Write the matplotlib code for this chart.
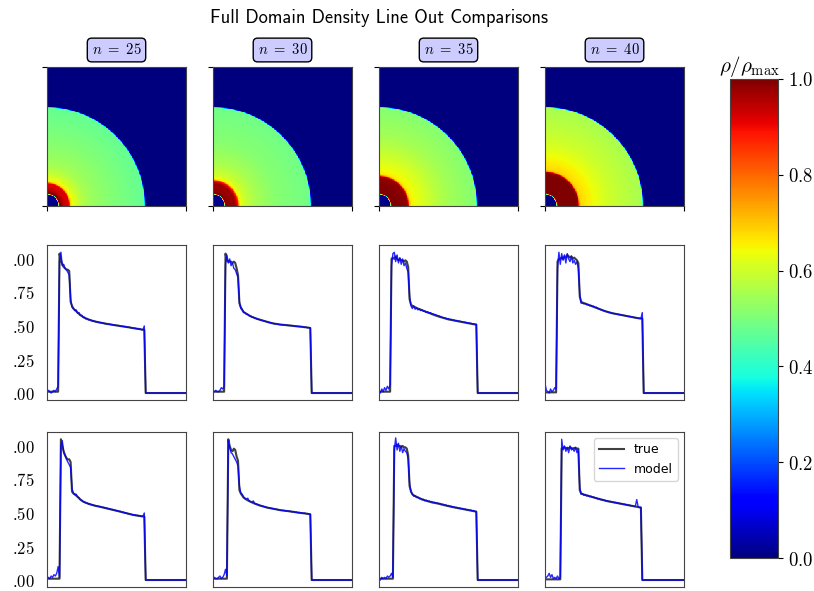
import numpy as np
import matplotlib
matplotlib.use('Agg')
import matplotlib.pyplot as plt
from matplotlib.ticker import FuncFormatter
from matplotlib.transforms import Bbox, TransformedBbox, IdentityTransform

plt.rcParams['mathtext.fontset'] = 'cm'

# ---------------- data ----------------
steps = [25, 30, 35, 40]
yticks = [0.0, 0.25, 0.5, 0.75, 1.0]
cbar_ticks = [0.0, 0.2, 0.4, 0.6, 0.8, 1.0]
N_POINTS = 101  # line-out samples at x = 0.00, 0.01, ..., 1.00 (tail beyond the shock is 0)

# row 2 (first line-out set)
r2_true_25 = [0.01, 0.01, 0.01, 0.01, 0.01, 0.01, 0.01, 0.01, 0.01,
              1.04, 0.99, 0.96, 0.94, 0.93, 0.92, 0.92, 0.91, 0.68, 0.65, 0.63, 0.62, 0.61, 0.60, 0.59, 0.58, 0.575,
              0.566, 0.561, 0.556, 0.552, 0.548, 0.545, 0.541, 0.538, 0.535, 0.533, 0.530, 0.528, 0.526, 0.524,
              0.522, 0.520, 0.518, 0.516, 0.514, 0.513, 0.511, 0.509, 0.507, 0.506, 0.504, 0.503, 0.501, 0.499,
              0.498, 0.496, 0.495, 0.493, 0.491, 0.490, 0.488, 0.486, 0.484, 0.483, 0.481, 0.479, 0.478, 0.476,
              0.474, 0.472, 0.470]
r2_model_25 = [0.01, 0.02, 0.01, 0.00, 0.01, 0.02, 0.01, 0.03, 0.05,
               0.98, 1.05, 0.95, 0.96, 0.93, 0.92, 0.90, 0.88, 0.70, 0.64, 0.63, 0.615, 0.62, 0.595, 0.60, 0.58, 0.58,
               0.565, 0.566, 0.553, 0.556, 0.545, 0.547, 0.540, 0.536, 0.537, 0.531, 0.530, 0.529, 0.524, 0.525,
               0.521, 0.520, 0.516, 0.517, 0.513, 0.514, 0.510, 0.510, 0.506, 0.507, 0.503, 0.504, 0.500, 0.499,
               0.497, 0.497, 0.494, 0.494, 0.490, 0.491, 0.487, 0.487, 0.483, 0.484, 0.480, 0.480, 0.477, 0.477,
               0.473, 0.472, 0.50]
r2_true_30 = [0.01, 0.01, 0.01, 0.01, 0.01, 0.01, 0.01, 0.01, 0.01,
              1.04, 0.99, 0.98, 0.98, 0.98, 0.97, 0.98, 0.97, 0.93, 0.88, 0.67, 0.64, 0.62,
              0.605, 0.598, 0.591, 0.585, 0.579, 0.573, 0.568, 0.564, 0.560, 0.556, 0.552, 0.549, 0.546, 0.543,
              0.540, 0.537, 0.534, 0.531, 0.528, 0.525, 0.522, 0.520, 0.518, 0.516, 0.515, 0.513, 0.511, 0.510,
              0.509, 0.508, 0.507, 0.506, 0.505, 0.504, 0.503, 0.502, 0.500, 0.499, 0.498, 0.497, 0.496, 0.495,
              0.494, 0.492, 0.491, 0.490, 0.488, 0.487, 0.485]
r2_model_30 = [0.01, 0.01, 0.02, 0.01, 0.01, 0.02, 0.04, 0.03, 0.05,
               0.96, 1.03, 0.97, 1.00, 0.95, 0.97, 0.93, 0.92, 0.89, 0.86, 0.68, 0.63, 0.625,
               0.60, 0.600, 0.588, 0.587, 0.576, 0.575, 0.566, 0.565, 0.558, 0.557, 0.550, 0.550, 0.544, 0.544,
               0.538, 0.538, 0.532, 0.532, 0.526, 0.526, 0.521, 0.520, 0.516, 0.517, 0.513, 0.514, 0.510, 0.511,
               0.507, 0.509, 0.505, 0.507, 0.503, 0.505, 0.501, 0.503, 0.499, 0.500, 0.497, 0.498, 0.495, 0.496,
               0.493, 0.494, 0.490, 0.491, 0.487, 0.488, 0.485]
r2_true_35 = [0.01, 0.01, 0.01, 0.01, 0.01, 0.01, 0.01, 0.01, 0.01,
              1.00, 1.01, 1.00, 1.02, 1.00, 0.99, 1.00, 0.99, 0.99, 0.98, 0.99, 0.98, 0.94, 0.70, 0.66, 0.65,
              0.645, 0.64, 0.635, 0.630, 0.626, 0.622, 0.618, 0.613, 0.609, 0.605, 0.601, 0.597, 0.593, 0.589,
              0.585, 0.581, 0.577, 0.574, 0.570, 0.567, 0.564, 0.561, 0.558, 0.555, 0.552, 0.549, 0.547, 0.545,
              0.543, 0.541, 0.539, 0.537, 0.535, 0.533, 0.531, 0.529, 0.527, 0.525, 0.523, 0.521, 0.519, 0.517,
              0.515, 0.513, 0.512, 0.510]
r2_model_35 = [0.02, 0.00, 0.03, 0.01, 0.04, 0.02, 0.05, 0.03, 0.06,
               0.95, 1.04, 1.05, 0.98, 1.03, 0.97, 1.01, 0.96, 1.00, 0.95, 0.97, 0.93, 0.90, 0.72, 0.65, 0.63,
               0.65, 0.625, 0.635, 0.62, 0.628, 0.615, 0.620, 0.610, 0.612, 0.601, 0.606, 0.597, 0.600, 0.591,
               0.590, 0.586, 0.583, 0.578, 0.576, 0.572, 0.566, 0.564, 0.560, 0.559, 0.554, 0.555, 0.548, 0.550,
               0.544, 0.545, 0.540, 0.541, 0.536, 0.537, 0.532, 0.533, 0.528, 0.529, 0.524, 0.525, 0.520, 0.521,
               0.516, 0.517, 0.512, 0.512]
r2_true_40 = [0.005, 0.005, 0.005, 0.005, 0.005, 0.005, 0.005, 0.005, 0.005,
              0.98, 1.00, 1.00, 1.01, 1.00, 1.02, 1.01, 1.03, 1.02, 1.01, 1.02, 1.00, 1.01, 1.00, 0.99, 0.97,
              0.72, 0.68, 0.675, 0.67, 0.667, 0.663, 0.659, 0.655, 0.651, 0.647, 0.643, 0.639, 0.635, 0.631,
              0.627, 0.623, 0.619, 0.615, 0.611, 0.608, 0.605, 0.602, 0.599, 0.596, 0.594, 0.592, 0.590, 0.588,
              0.586, 0.584, 0.582, 0.580, 0.578, 0.576, 0.574, 0.572, 0.570, 0.568, 0.566, 0.564, 0.562, 0.560,
              0.558, 0.557, 0.556, 0.555]
r2_model_40 = [0.07, 0.02, 0.01, 0.00, 0.03, 0.01, 0.02, 0.04, 0.03,
               0.93, 1.05, 0.96, 1.04, 0.99, 1.03, 0.97, 1.04, 1.00, 0.98, 1.02, 0.97, 0.99, 0.96, 0.98, 0.93,
               0.74, 0.67, 0.67, 0.665, 0.668, 0.658, 0.660, 0.651, 0.654, 0.645, 0.648, 0.637, 0.640, 0.630,
               0.629, 0.622, 0.621, 0.614, 0.614, 0.607, 0.607, 0.601, 0.601, 0.595, 0.595, 0.591, 0.591, 0.587,
               0.587, 0.583, 0.583, 0.579, 0.579, 0.575, 0.575, 0.571, 0.571, 0.567, 0.567, 0.563, 0.563, 0.559,
               0.559, 0.556, 0.555, 0.60]

# row 3 (second line-out set)
r3_true_25 = [0.01, 0.01, 0.01, 0.01, 0.01, 0.01, 0.01, 0.01, 0.01, 0.01,
              1.05, 1.00, 0.96, 0.93, 0.91, 0.90, 0.90, 0.88, 0.66, 0.645, 0.64, 0.63, 0.62, 0.61, 0.60,
              0.592, 0.585, 0.580, 0.576, 0.572, 0.568, 0.565, 0.562, 0.559, 0.556, 0.553, 0.551, 0.549, 0.547,
              0.544, 0.542, 0.539, 0.537, 0.534, 0.532, 0.529, 0.527, 0.524, 0.522, 0.519, 0.517, 0.514, 0.512,
              0.509, 0.506, 0.504, 0.501, 0.499, 0.496, 0.493, 0.491, 0.488, 0.485, 0.484, 0.482, 0.480, 0.479,
              0.477, 0.476, 0.474, 0.473]
r3_model_25 = [0.01, 0.02, 0.01, 0.03, 0.02, 0.04, 0.03, 0.05, 0.10, 0.02,
               1.00, 1.04, 0.95, 0.93, 0.90, 0.88, 0.86, 0.84, 0.68, 0.65, 0.635, 0.64, 0.62, 0.615, 0.60,
               0.595, 0.585, 0.583, 0.575, 0.574, 0.567, 0.567, 0.560, 0.561, 0.555, 0.555, 0.550, 0.551, 0.546,
               0.546, 0.541, 0.542, 0.536, 0.537, 0.531, 0.532, 0.526, 0.527, 0.521, 0.522, 0.516, 0.517, 0.511,
               0.512, 0.505, 0.506, 0.500, 0.501, 0.495, 0.496, 0.490, 0.490, 0.485, 0.488, 0.481, 0.484, 0.478,
               0.480, 0.474, 0.476, 0.50]
r3_true_30 = [0.01, 0.01, 0.01, 0.01, 0.01, 0.01, 0.01, 0.01, 0.01, 0.01, 0.01,
              1.05, 1.00, 0.97, 0.96, 0.98, 0.97, 0.92, 0.89, 0.67, 0.645, 0.63, 0.615, 0.607, 0.600, 0.594,
              0.589, 0.584, 0.579, 0.574, 0.570, 0.566, 0.562, 0.558, 0.555, 0.552, 0.549, 0.546, 0.543, 0.540,
              0.538, 0.536, 0.534, 0.532, 0.530, 0.528, 0.526, 0.524, 0.522, 0.520, 0.519, 0.518, 0.516, 0.515,
              0.514, 0.512, 0.511, 0.509, 0.508, 0.506, 0.505, 0.503, 0.502, 0.500, 0.499, 0.498, 0.497, 0.495,
              0.494, 0.492, 0.490]
r3_model_30 = [0.01, 0.02, 0.01, 0.01, 0.02, 0.03, 0.01, 0.02, 0.04, 0.08, 0.03,
               1.04, 0.99, 0.95, 0.94, 0.92, 0.90, 0.88, 0.85, 0.70, 0.65, 0.64, 0.62, 0.61, 0.605, 0.61,
               0.59, 0.585, 0.58, 0.59, 0.572, 0.567, 0.565, 0.560, 0.556, 0.553, 0.550, 0.547, 0.544, 0.541,
               0.539, 0.537, 0.535, 0.533, 0.531, 0.529, 0.527, 0.524, 0.522, 0.521, 0.519, 0.518, 0.517, 0.515,
               0.516, 0.512, 0.513, 0.508, 0.511, 0.505, 0.507, 0.502, 0.504, 0.500, 0.501, 0.497, 0.499, 0.495,
               0.495, 0.492, 0.490]
r3_true_35 = [0.01, 0.01, 0.01, 0.01, 0.01, 0.01, 0.01, 0.01, 0.01, 0.01, 0.01,
              1.00, 1.00, 1.01, 1.00, 1.00, 0.99, 1.00, 0.99, 0.99, 0.98, 0.93, 0.70, 0.66, 0.64,
              0.632, 0.626, 0.621, 0.616, 0.611, 0.606, 0.602, 0.598, 0.594, 0.591, 0.588, 0.585, 0.582, 0.579,
              0.577, 0.575, 0.573, 0.571, 0.569, 0.566, 0.563, 0.561, 0.558, 0.556, 0.553, 0.551, 0.549, 0.546,
              0.544, 0.542, 0.540, 0.538, 0.536, 0.534, 0.532, 0.530, 0.528, 0.526, 0.524, 0.522, 0.520, 0.518,
              0.516, 0.514, 0.512, 0.510]
r3_model_35 = [0.01, 0.00, 0.02, 0.01, 0.02, 0.01, 0.03, 0.02, 0.03, 0.05, 0.02,
               0.97, 1.06, 0.97, 1.02, 0.96, 1.00, 0.95, 0.98, 0.96, 0.95, 0.90, 0.72, 0.66, 0.64,
               0.625, 0.628, 0.615, 0.618, 0.607, 0.608, 0.598, 0.602, 0.592, 0.596, 0.588, 0.590, 0.584, 0.585,
               0.578, 0.580, 0.574, 0.575, 0.570, 0.571, 0.564, 0.566, 0.559, 0.561, 0.554, 0.556, 0.549, 0.551,
               0.545, 0.546, 0.540, 0.542, 0.536, 0.538, 0.532, 0.534, 0.528, 0.530, 0.524, 0.526, 0.520, 0.522,
               0.516, 0.518, 0.512, 0.510]
r3_true_40 = [0.005, 0.005, 0.005, 0.005, 0.005, 0.005, 0.005, 0.005, 0.005, 0.005, 0.005, 0.005,
              0.98, 0.985, 0.99, 0.985, 0.98, 0.985, 0.99, 0.985, 0.98, 0.985, 0.985, 0.98, 0.98, 0.67, 0.645,
              0.641, 0.637, 0.634, 0.631, 0.628, 0.625, 0.622, 0.619, 0.616, 0.613, 0.610, 0.607, 0.604, 0.601,
              0.598, 0.596, 0.593, 0.590, 0.588, 0.586, 0.584, 0.582, 0.580, 0.578, 0.576, 0.574, 0.572, 0.570,
              0.568, 0.566, 0.564, 0.562, 0.560, 0.558, 0.556, 0.554, 0.552, 0.550, 0.548, 0.546, 0.544, 0.542,
              0.540]
r3_model_40 = [0.01, 0.02, 0.03, 0.05, 0.02, 0.04, 0.01, 0.02, 0.01, 0.03, 0.01, 0.02,
               1.05, 0.97, 1.00, 0.96, 0.99, 0.95, 1.00, 0.97, 0.98, 0.96, 0.99, 0.95, 0.97, 0.69, 0.64,
               0.645, 0.632, 0.638, 0.627, 0.632, 0.622, 0.626, 0.617, 0.620, 0.612, 0.614, 0.605, 0.608, 0.600,
               0.602, 0.595, 0.597, 0.590, 0.591, 0.585, 0.587, 0.581, 0.583, 0.577, 0.579, 0.573, 0.575, 0.569,
               0.571, 0.565, 0.567, 0.561, 0.563, 0.557, 0.559, 0.553, 0.555, 0.549, 0.551, 0.60, 0.547, 0.541,
               0.543]

row2_true = [r2_true_25, r2_true_30, r2_true_35, r2_true_40]
row2_model = [r2_model_25, r2_model_30, r2_model_35, r2_model_40]
row3_true = [r3_true_25, r3_true_30, r3_true_35, r3_true_40]
row3_model = [r3_model_25, r3_model_30, r3_model_35, r3_model_40]

# ---------------- helpers ----------------
xs = np.arange(N_POINTS) / 100.0


def full(v):
    return np.array(list(v) + [0.0] * (N_POINTS - len(v)))


W, H = 814, 591


def rect(l, t, w, h):
    return [l / W, 1 - (t + h) / H, w / W, h / H]


lefts = [47, 213, 379, 545]
AW = 139
SPINE = '#444444'

fig = plt.figure(figsize=(8.14, 5.91), dpi=100)

fig.text(379 / W, 1 - 18 / H, 'Full Domain Density Line Out Comparisons',
         fontfamily='cmss10', fontsize=13.3, ha='center', va='center')

# radial density maps (built from the first line-out profile)
g = (np.arange(220) + 0.5) / 220
GX, GY = np.meshgrid(g, g)
R = np.hypot(GX, GY)

im = None
for c, n in enumerate(steps):
    ax = fig.add_axes(rect(lefts[c], 67, AW, 139))
    field = np.interp(R, xs, full(row2_true[c]))
    im = ax.imshow(field, origin='lower', extent=[0, 1, 0, 1], cmap='jet',
                   vmin=0, vmax=1, interpolation='nearest', aspect='auto')
    ax.set_xticks([0, 1])
    ax.set_yticks([0, 1])
    ax.set_xticklabels([])
    ax.set_yticklabels([])
    for s in ax.spines.values():
        s.set_color(SPINE)
    fig.text((lefts[c] + AW / 2) / W, 1 - 50 / H, r'$n\ =\ \mathsf{%d}$' % n,
             ha='center', va='center', fontsize=10.5,
             bbox=dict(boxstyle='round,pad=0.3', fc='#ccccff', ec='k', lw=1))

fmt2 = FuncFormatter(lambda v, p: r'$%.2f$' % v)
clip_left = TransformedBbox(Bbox.from_extents(12.5, 0, W, H), IdentityTransform())

for top, trues, models in [(245, row2_true, row2_model), (432, row3_true, row3_model)]:
    for c in range(4):
        ax = fig.add_axes(rect(lefts[c], top, AW, 155))
        ax.plot(xs, full(trues[c]), color='k', alpha=0.75, lw=1.5, label='true')
        ax.plot(xs, full(models[c]), color='b', alpha=0.85, lw=1.0, label='model')
        ax.set_xlim(0, 1)
        ax.set_ylim(-0.052, 1.104)
        ax.set_xticks([])
        ax.set_yticks(yticks)
        ax.yaxis.set_major_formatter(fmt2)
        ax.tick_params(axis='y', length=0, pad=8.5, labelsize=12)
        if c > 0:
            ax.tick_params(axis='y', labelleft=False)
        else:
            for lbl in ax.get_yticklabels():
                lbl.set_clip_box(clip_left)
                lbl.set_clip_on(True)
        for s in ax.spines.values():
            s.set_color(SPINE)
        if top == 432 and c == 3:
            ax.legend(loc='upper right', fontsize=9)

cax = fig.add_axes(rect(730, 79, 48, 479))
cb = fig.colorbar(im, cax=cax, ticks=cbar_ticks)
cb.ax.yaxis.set_major_formatter(FuncFormatter(lambda v, p: r'$%.1f$' % v))
cb.ax.tick_params(labelsize=13.5)
cb.outline.set_edgecolor(SPINE)
cax.set_title(r'$\rho/\rho_{\max}$', fontsize=15, pad=2, x=0.4)

fig.savefig('out.png', dpi=100)
